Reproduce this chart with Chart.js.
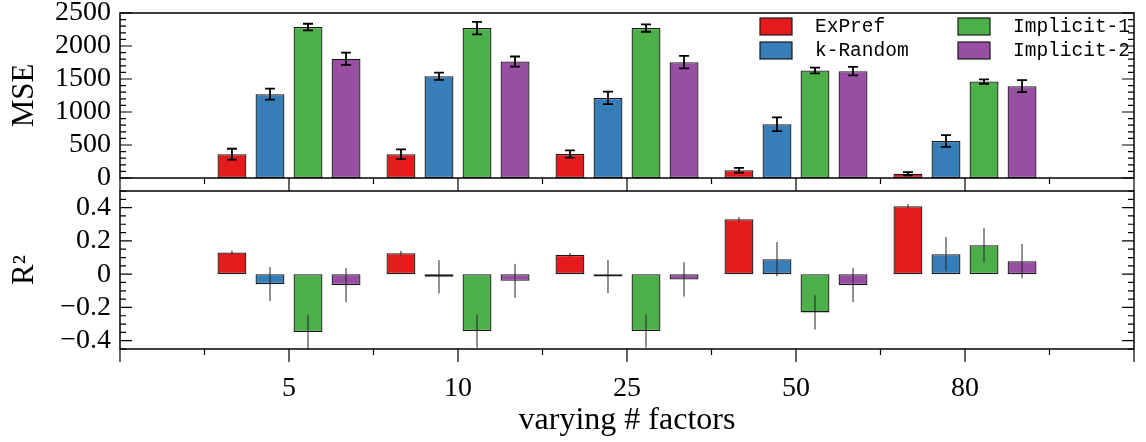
<!DOCTYPE html>
<html>
<head>
<meta charset="utf-8">
<script src="https://cdn.jsdelivr.net/npm/chart.js@4.4.0/dist/chart.umd.min.js"></script>
<style>
  body { margin: 0; background: #fff; }
  #wrap { position: relative; width: 1146px; height: 442px; }
  #top { position: absolute; left: 0; top: 0; width: 1146px; height: 192px; }
  #bot { position: absolute; left: 0; top: 178px; width: 1146px; height: 264px; }
</style>
</head>
<body>
<div id="wrap">
  <div id="top"><canvas id="mse"></canvas></div>
  <div id="bot"><canvas id="r2"></canvas></div>
</div>
<script>
var factors = ['5', '10', '25', '50', '80'];
var methods = ['ExPref', 'k-Random', 'Implicit-1', 'Implicit-2'];
var colors = ['#e41a1c', '#377eb8', '#4daf4a', '#984ea3'];

// MSE panel
var mseExPref = [360, 360, 364, 117, 65];
var mseExPrefErr = [83, 73, 55, 35, 23];
var mseRandom = [1270, 1543, 1214, 815, 561];
var mseRandomErr = [83, 55, 96, 104, 88];
var mseImp1 = [2287, 2272, 2272, 1628, 1461];
var mseImp1Err = [50, 95, 56, 43, 33];
var mseImp2 = [1806, 1765, 1755, 1619, 1391];
var mseImp2Err = [93, 76, 94, 64, 91];

// R^2 panel
var r2ExPref = [0.130, 0.126, 0.116, 0.330, 0.408];
var r2ExPrefErr = [0.012, 0.014, 0.012, 0.013, 0.013];
var r2Random = [-0.060, -0.016, -0.014, 0.090, 0.120];
var r2RandomErr = [0.102, 0.100, 0.100, 0.103, 0.103];
var r2Imp1 = [-0.348, -0.342, -0.342, -0.230, 0.174];
var r2Imp1Err = [0.104, 0.100, 0.100, 0.103, 0.102];
var r2Imp2 = [-0.066, -0.040, -0.032, -0.066, 0.078];
var r2Imp2Err = [0.102, 0.102, 0.103, 0.102, 0.103];

var mseTicks = [0, 500, 1000, 1500, 2000, 2500];
var r2Ticks = [-0.4, -0.2, 0, 0.2, 0.4];

var serif = '"Liberation Serif", "Times New Roman", serif';

function makeSets(vals, errs) {
  return methods.map(function (m, i) {
    return {
      label: m,
      data: vals[i].map(function (v, j) { return { x: j + 1, y: v }; }),
      err: errs[i],
      backgroundColor: colors[i],
      borderColor: '#1a1a1a',
      borderWidth: 1.3,
      borderSkipped: false,
      categoryPercentage: 0.9,
      barPercentage: 0.76
    };
  });
}

function errorPlugin(cap, width, color) {
  return {
    id: 'errbars',
    afterDatasetsDraw: function (chart) {
      var ctx = chart.ctx, ys = chart.scales.y, a = chart.chartArea;
      ctx.save();
      ctx.beginPath();
      ctx.rect(a.left, a.top, a.right - a.left, a.bottom - a.top);
      ctx.clip();
      ctx.strokeStyle = color;
      ctx.lineWidth = width;
      ctx.beginPath();
      chart.data.datasets.forEach(function (ds, i) {
        chart.getDatasetMeta(i).data.forEach(function (bar, j) {
          var v = ds.data[j].y, e = ds.err[j];
          var y1 = ys.getPixelForValue(v + e), y2 = ys.getPixelForValue(v - e);
          ctx.moveTo(bar.x, y1); ctx.lineTo(bar.x, y2);
          if (cap) {
            ctx.moveTo(bar.x - cap, y1); ctx.lineTo(bar.x + cap, y1);
            ctx.moveTo(bar.x - cap, y2); ctx.lineTo(bar.x + cap, y2);
          }
        });
      });
      ctx.stroke();
      ctx.restore();
    }
  };
}

function framePlugin(yMajor, yMinor) {
  return {
    id: 'frame',
    afterDatasetsDraw: function (chart) {
      var a = chart.chartArea, ctx = chart.ctx, xs = chart.scales.x, ys = chart.scales.y;
      ctx.save();
      ctx.strokeStyle = '#000';
      ctx.lineWidth = 1.5;
      ctx.strokeRect(a.left, a.top, a.right - a.left, a.bottom - a.top);
      ctx.lineWidth = 1.2;
      ctx.beginPath();
      yMajor.forEach(function (v) {
        var y = ys.getPixelForValue(v);
        ctx.moveTo(a.left, y); ctx.lineTo(a.left + 12, y);
        ctx.moveTo(a.right, y); ctx.lineTo(a.right - 12, y);
      });
      yMinor.forEach(function (v) {
        var y = ys.getPixelForValue(v);
        ctx.moveTo(a.left, y); ctx.lineTo(a.left + 6, y);
        ctx.moveTo(a.right, y); ctx.lineTo(a.right - 6, y);
      });
      for (var k = 0; k <= 12; k++) {
        var x = xs.getPixelForValue(k / 2);
        var len = k % 2 === 0 ? 13 : 6;
        ctx.moveTo(x, a.bottom); ctx.lineTo(x, a.bottom + len);
      }
      ctx.stroke();
      ctx.restore();
    }
  };
}

var legendPlugin = {
  id: 'boxlegend',
  afterDatasetsDraw: function (chart) {
    var a = chart.chartArea, ctx = chart.ctx;
    ctx.save();
    ctx.font = '19.5px "Liberation Mono", monospace';
    ctx.textBaseline = 'middle';
    chart.data.datasets.forEach(function (ds, i) {
      var col = Math.floor(i / 2), row = i % 2;
      var bx = a.right - 374 + col * 198, by = a.top + 5 + row * 24;
      ctx.fillStyle = ds.backgroundColor;
      ctx.fillRect(bx, by, 32, 17);
      ctx.strokeStyle = '#1a1a1a';
      ctx.lineWidth = 1.2;
      ctx.strokeRect(bx, by, 32, 17);
      ctx.fillStyle = '#000';
      ctx.fillText(ds.label, bx + 55, by + 9);
    });
    ctx.restore();
  }
};

var mseMinor = [];
for (var v = 0; v <= 2500; v += 100) { if (v % 500 !== 0) mseMinor.push(v); }
var r2Minor = [];
for (var k = -9; k <= 10; k++) { if (k % 4 !== 0) r2Minor.push(k * 0.05); }

function r2Label(v) {
  if (Math.abs(v) < 1e-9) return '0';
  return (v < 0 ? '\u2212' : '') + Math.abs(v).toFixed(1);
}

function fixY(s) { s.width = 120; s.paddingTop = 0; s.paddingBottom = 0; }

new Chart(document.getElementById('mse'), {
  type: 'bar',
  data: {
    datasets: makeSets([mseExPref, mseRandom, mseImp1, mseImp2],
                       [mseExPrefErr, mseRandomErr, mseImp1Err, mseImp2Err])
  },
  options: {
    responsive: true,
    maintainAspectRatio: false,
    animation: false,
    layout: { padding: { top: 13, right: 12, left: 0, bottom: 0 } },
    plugins: { legend: { display: false }, tooltip: { enabled: false } },
    scales: {
      x: {
        type: 'linear', min: 0, max: 6, offset: false,
        grid: { display: false, drawTicks: false },
        border: { display: false },
        ticks: { display: false, stepSize: 1 },
        afterFit: function (s) { s.height = 14; s.paddingLeft = 0; s.paddingRight = 0; }
      },
      y: {
        min: 0, max: 2500,
        afterBuildTicks: function (s) { s.ticks = mseTicks.map(function (t) { return { value: t }; }); },
        grid: { display: false, drawTicks: false },
        border: { display: false },
        ticks: {
          autoSkip: false, font: { family: serif, size: 28 }, color: '#000', padding: 9,
          callback: function (v) { return String(v); }
        },
        title: { display: true, text: 'MSE', color: '#000', font: { family: serif, size: 31 }, padding: { top: 6, bottom: 0 } },
        afterFit: fixY
      }
    }
  },
  plugins: [errorPlugin(5, 1.8, '#000'), framePlugin(mseTicks, mseMinor), legendPlugin]
});

new Chart(document.getElementById('r2'), {
  type: 'bar',
  data: {
    datasets: makeSets([r2ExPref, r2Random, r2Imp1, r2Imp2],
                       [r2ExPrefErr, r2RandomErr, r2Imp1Err, r2Imp2Err])
  },
  options: {
    responsive: true,
    maintainAspectRatio: false,
    animation: false,
    layout: { padding: { top: 13, right: 12, left: 0, bottom: 0 } },
    plugins: { legend: { display: false }, tooltip: { enabled: false } },
    scales: {
      x: {
        type: 'linear', min: 0, max: 6, offset: false,
        grid: { display: false, drawTicks: false },
        border: { display: false },
        ticks: {
          stepSize: 1, autoSkip: false, maxRotation: 0, padding: 23,
          font: { family: serif, size: 28 }, color: '#000',
          callback: function (v) { return (v >= 1 && v <= factors.length && v % 1 === 0) ? factors[v - 1] : ''; }
        },
        title: { display: true, text: 'varying # factors', color: '#000', font: { family: serif, size: 32 }, padding: { top: 0, bottom: 2 } },
        afterFit: function (s) { s.height = 93; s.paddingLeft = 0; s.paddingRight = 0; }
      },
      y: {
        min: -0.45, max: 0.5,
        afterBuildTicks: function (s) { s.ticks = r2Ticks.map(function (t) { return { value: t }; }); },
        grid: { display: false, drawTicks: false },
        border: { display: false },
        ticks: { autoSkip: false, font: { family: serif, size: 28 }, color: '#000', padding: 9, callback: r2Label },
        title: { display: true, text: 'R\u00b2', color: '#000', font: { family: serif, size: 31 }, padding: { top: 6, bottom: 0 } },
        afterFit: fixY
      }
    }
  },
  plugins: [errorPlugin(0, 1, '#222'), framePlugin(r2Ticks, r2Minor)]
});
</script>
</body>
</html>
